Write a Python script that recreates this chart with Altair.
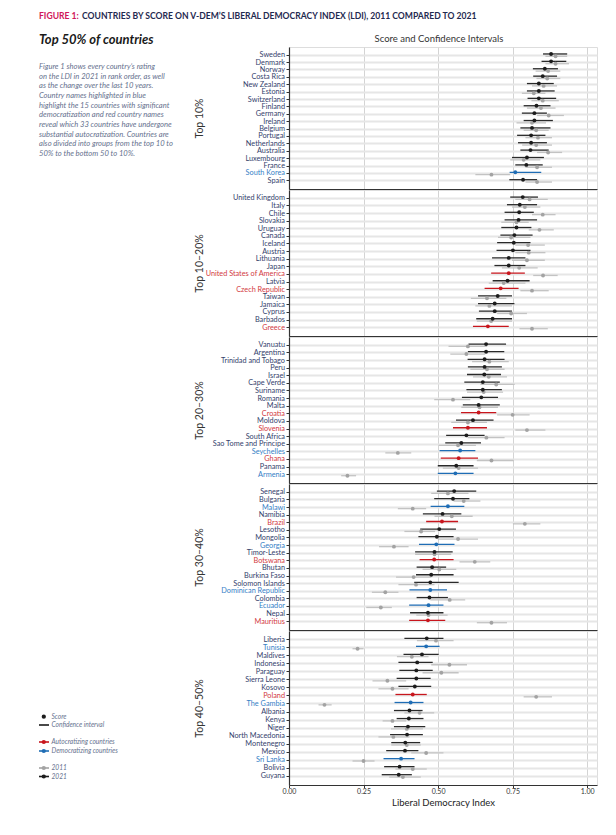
import json
import altair as alt
import pandas as pd

FONT = "Lato"

groups = ["Top 10%", "Top 10–20%", "Top 20–30%", "Top 30–40%", "Top 40–50%"]

countries1 = ["Sweden", "Denmark", "Norway", "Costa Rica", "New Zealand", "Estonia", "Switzerland",
              "Finland", "Germany", "Ireland", "Belgium", "Portugal", "Netherlands", "Australia",
              "Luxembourg", "France", "South Korea", "Spain"]
s21_1 = [0.879, 0.879, 0.858, 0.851, 0.838, 0.838, 0.838, 0.830, 0.823, 0.823, 0.815, 0.812, 0.812, 0.810, 0.798, 0.796, 0.759, 0.785]
lo21_1 = [0.852, 0.847, 0.818, 0.819, 0.798, 0.798, 0.800, 0.787, 0.781, 0.787, 0.776, 0.765, 0.768, 0.776, 0.748, 0.759, 0.740, 0.739]
hi21_1 = [0.933, 0.930, 0.902, 0.899, 0.888, 0.891, 0.896, 0.877, 0.865, 0.885, 0.877, 0.860, 0.865, 0.871, 0.855, 0.851, 0.846, 0.832]
s11_1 = [0.894, 0.894, 0.869, 0.866, 0.854, 0.821, 0.851, 0.845, 0.871, 0.815, 0.829, 0.835, 0.829, 0.869, 0.787, 0.832, 0.679, 0.832]
lo11_1 = [0.860, 0.860, 0.827, 0.830, 0.815, 0.781, 0.813, 0.798, 0.832, 0.763, 0.787, 0.793, 0.782, 0.832, 0.742, 0.793, 0.625, 0.793]
hi11_1 = [0.933, 0.939, 0.910, 0.910, 0.899, 0.860, 0.905, 0.894, 0.922, 0.862, 0.871, 0.882, 0.882, 0.916, 0.843, 0.882, 0.742, 0.882]

countries2 = ["United Kingdom", "Italy", "Chile", "Slovakia", "Uruguay", "Canada", "Iceland", "Austria",
              "Lithuania", "Japan", "United States of America", "Latvia", "Czech Republic", "Taiwan",
              "Jamaica", "Cyprus", "Barbados", "Greece"]
s21_2 = [0.784, 0.774, 0.772, 0.770, 0.763, 0.756, 0.754, 0.751, 0.737, 0.737, 0.737, 0.733, 0.710, 0.700, 0.690, 0.690, 0.683, 0.667]
lo21_2 = [0.742, 0.731, 0.723, 0.723, 0.712, 0.709, 0.698, 0.696, 0.681, 0.689, 0.678, 0.683, 0.656, 0.634, 0.634, 0.637, 0.628, 0.617]
hi21_2 = [0.835, 0.832, 0.821, 0.832, 0.813, 0.817, 0.810, 0.810, 0.793, 0.793, 0.791, 0.807, 0.770, 0.748, 0.756, 0.748, 0.748, 0.737]
s11_2 = [0.807, 0.791, 0.851, 0.763, 0.840, 0.745, 0.802, 0.804, 0.798, 0.772, 0.852, 0.720, 0.815, 0.664, 0.672, 0.745, 0.678, 0.815]
lo11_2 = [0.759, 0.748, 0.815, 0.712, 0.804, 0.701, 0.759, 0.759, 0.748, 0.714, 0.819, 0.670, 0.776, 0.610, 0.625, 0.698, 0.630, 0.773]
hi11_2 = [0.868, 0.843, 0.894, 0.804, 0.888, 0.810, 0.858, 0.860, 0.858, 0.834, 0.901, 0.793, 0.871, 0.729, 0.748, 0.798, 0.748, 0.868]

countries3 = ["Vanuatu", "Argentina", "Trinidad and Tobago", "Peru", "Israel", "Cape Verde", "Suriname",
              "Romania", "Malta", "Croatia", "Moldova", "Slovenia", "South Africa", "Sao Tome and Principe",
              "Seychelles", "Ghana", "Panama", "Armenia"]
s21_3 = [0.661, 0.661, 0.656, 0.656, 0.655, 0.650, 0.650, 0.645, 0.636, 0.636, 0.617, 0.600, 0.595, 0.578, 0.574, 0.569, 0.561, 0.558]
lo21_3 = [0.602, 0.600, 0.599, 0.600, 0.597, 0.588, 0.595, 0.580, 0.583, 0.577, 0.560, 0.550, 0.527, 0.524, 0.505, 0.509, 0.499, 0.499]
hi21_3 = [0.728, 0.722, 0.723, 0.714, 0.711, 0.707, 0.714, 0.701, 0.707, 0.695, 0.686, 0.664, 0.656, 0.644, 0.625, 0.634, 0.619, 0.619]
s11_3 = [0.600, 0.595, 0.672, 0.664, 0.670, 0.695, 0.653, 0.550, 0.639, 0.750, 0.600, 0.798, 0.662, 0.567, 0.365, 0.679, 0.569, 0.196]
lo11_3 = [0.535, 0.541, 0.614, 0.608, 0.617, 0.642, 0.597, 0.487, 0.578, 0.698, 0.544, 0.759, 0.599, 0.502, 0.323, 0.630, 0.516, 0.175]
hi11_3 = [0.664, 0.658, 0.737, 0.723, 0.731, 0.757, 0.718, 0.608, 0.701, 0.807, 0.664, 0.860, 0.723, 0.627, 0.410, 0.754, 0.634, 0.225]

countries4 = ["Senegal", "Bulgaria", "Malawi", "Namibia", "Brazil", "Lesotho", "Mongolia", "Georgia",
              "Timor-Leste", "Botswana", "Bhutan", "Burkina Faso", "Solomon Islands", "Dominican Republic",
              "Colombia", "Ecuador", "Nepal", "Mauritius"]
s21_4 = [0.554, 0.550, 0.533, 0.515, 0.513, 0.504, 0.496, 0.494, 0.488, 0.487, 0.480, 0.477, 0.474, 0.474, 0.471, 0.468, 0.466, 0.466]
lo21_4 = [0.496, 0.487, 0.475, 0.449, 0.460, 0.440, 0.434, 0.436, 0.423, 0.438, 0.428, 0.426, 0.420, 0.404, 0.428, 0.403, 0.406, 0.403]
hi21_4 = [0.628, 0.605, 0.588, 0.578, 0.567, 0.560, 0.552, 0.555, 0.549, 0.552, 0.527, 0.552, 0.569, 0.530, 0.533, 0.518, 0.518, 0.524]
s11_4 = [0.533, 0.586, 0.415, 0.546, 0.791, 0.443, 0.567, 0.352, 0.488, 0.623, 0.504, 0.418, 0.426, 0.323, 0.539, 0.308, 0.468, 0.679]
lo11_4 = [0.477, 0.552, 0.365, 0.488, 0.751, 0.387, 0.499, 0.302, 0.423, 0.572, 0.448, 0.359, 0.367, 0.278, 0.474, 0.259, 0.427, 0.630]
hi11_4 = [0.602, 0.642, 0.460, 0.616, 0.843, 0.490, 0.634, 0.401, 0.544, 0.675, 0.561, 0.477, 0.488, 0.367, 0.591, 0.345, 0.532, 0.731]

countries5 = ["Liberia", "Tunisia", "Maldives", "Indonesia", "Paraguay", "Sierra Leone", "Kosovo", "Poland",
              "The Gambia", "Albania", "Kenya", "Niger", "North Macedonia", "Montenegro", "Mexico",
              "Sri Lanka", "Bolivia", "Guyana"]
s21_5 = [0.462, 0.460, 0.446, 0.430, 0.427, 0.427, 0.422, 0.415, 0.408, 0.404, 0.402, 0.399, 0.396, 0.390, 0.389, 0.376, 0.371, 0.368]
lo21_5 = [0.387, 0.426, 0.384, 0.367, 0.370, 0.361, 0.367, 0.357, 0.354, 0.352, 0.361, 0.352, 0.339, 0.343, 0.326, 0.317, 0.319, 0.311]
hi21_5 = [0.518, 0.505, 0.502, 0.482, 0.482, 0.475, 0.477, 0.462, 0.451, 0.448, 0.451, 0.457, 0.449, 0.440, 0.434, 0.421, 0.421, 0.412]
s11_5 = [0.493, 0.230, 0.412, 0.538, 0.511, 0.330, 0.347, 0.829, 0.119, 0.438, 0.347, 0.395, 0.350, 0.395, 0.460, 0.250, 0.415, 0.382]
lo11_5 = [0.429, 0.213, 0.362, 0.477, 0.448, 0.280, 0.300, 0.787, 0.099, 0.387, 0.314, 0.342, 0.300, 0.343, 0.410, 0.213, 0.357, 0.336]
hi11_5 = [0.552, 0.250, 0.468, 0.597, 0.569, 0.393, 0.401, 0.882, 0.143, 0.487, 0.393, 0.449, 0.404, 0.442, 0.518, 0.287, 0.462, 0.442]

autocratizing = ["United States of America", "Czech Republic", "Greece", "Croatia", "Slovenia", "Ghana",
                 "Brazil", "Botswana", "Mauritius", "Poland"]
democratizing = ["South Korea", "Seychelles", "Armenia", "Malawi", "Georgia", "Dominican Republic",
                 "Ecuador", "Tunisia", "The Gambia", "Sri Lanka"]

x_ticks = [0.0, 0.25, 0.5, 0.75, 1.0]

title_lead = "FIGURE 1:"
title_rest = "COUNTRIES BY SCORE ON V-DEM’S LIBERAL DEMOCRACY INDEX (LDI), 2011 COMPARED TO 2021"
subtitle = "Top 50% of countries"
panel_title = "Score and Confidence Intervals"
x_title = "Liberal Democracy Index"
paragraph = ("Figure 1 shows every country’s rating\n"
             "on the LDI in 2021 in rank order, as well\n"
             "as the change over the last 10 years.\n"
             "Country names highlighted in blue\n"
             "highlight the 15 countries with significant\n"
             "democratization and red country names\n"
             "reveal which 33 countries have undergone\n"
             "substantial autocratization. Countries are\n"
             "also divided into groups from the top 10 to\n"
             "50% to the bottom 50 to 10%.")

group_data = [
    (countries1, s21_1, lo21_1, hi21_1, s11_1, lo11_1, hi11_1),
    (countries2, s21_2, lo21_2, hi21_2, s11_2, lo11_2, hi11_2),
    (countries3, s21_3, lo21_3, hi21_3, s11_3, lo11_3, hi11_3),
    (countries4, s21_4, lo21_4, hi21_4, s11_4, lo11_4, hi11_4),
    (countries5, s21_5, lo21_5, hi21_5, s11_5, lo11_5, hi11_5),
]

RED = "#c8161d"
BLUE = "#1f6db5"
LBL_NAVY = "#34426c"
LBL_RED = "#d23a3f"
LBL_BLUE = "#3580c6"
NOTE = "#66718e"

rows = []
for g, (names, a, b, c, d, e, f) in zip(groups, group_data):
    for i, name in enumerate(names):
        rows.append(dict(group=g, country=name, year="2011", score=d[i], lo=e[i], hi=f[i], key="2011"))
    for i, name in enumerate(names):
        st = "auto" if name in autocratizing else ("demo" if name in democratizing else "2021")
        rows.append(dict(group=g, country=name, year="2021", score=a[i], lo=b[i], hi=c[i], key=st))
df = pd.DataFrame(rows)

keys = ["2011", "2021", "auto", "demo"]
point_colors = ["#a3a3a3", "#1c1c1c", RED, BLUE]
line_colors = ["#c3c3c3", "#2a2a2a", RED, BLUE]

heights = [142, 146, 146, 146, 154]
WIDTH = 308


def one(text):
    return pd.DataFrame({"t": [text]})


def text_layer(text, x, y, **kw):
    return alt.Chart(one(text)).mark_text(**kw).encode(
        text="t:N", x=alt.value(x), y=alt.value(y))


def panel(i):
    g = groups[i]
    names = group_data[i][0]
    H = heights[i]
    last = i == len(groups) - 1
    d = df[df.group == g]
    autos = [n for n in names if n in autocratizing]
    demos = [n for n in names if n in democratizing]
    label_color = {
        "condition": [
            {"test": "indexof(%s, datum.value) >= 0" % json.dumps(autos), "value": LBL_RED},
            {"test": "indexof(%s, datum.value) >= 0" % json.dumps(demos), "value": LBL_BLUE},
        ],
        "value": LBL_NAVY,
    }
    yaxis = alt.Axis(
        title=g, titleX=-90, titleY=H / 2, titleAngle=270, titleAlign="center",
        titleBaseline="middle", titleFontSize=10.5, titleFontWeight="normal", titleColor="#333333",
        titleFont=FONT, labelFont=FONT, labelFontSize=7.3, labelColor=label_color, labelPadding=1.5,
        tickSize=3, tickColor="#333333", domainColor="#333333", domainWidth=1.2,
        grid=True, gridColor="#e6e6e6", gridWidth=2, bandPosition=0.5)
    xaxis = alt.Axis(
        values=x_ticks, format=".2f", labels=last, title=x_title if last else None,
        titleFont=FONT, titleFontSize=9.5, titleFontWeight="normal", titleColor="#222222",
        titlePadding=2.5, labelFont=FONT, labelFontSize=7, labelColor="#333333", labelPadding=0,
        labelFlush=False, tickSize=2.5, tickColor="#333333", domainColor="#333333", domainWidth=1.2,
        grid=True, gridColor="#d4d4d4", gridWidth=1)
    yenc = alt.Y("country:N", sort=names,
                 scale=alt.Scale(type="band", paddingInner=0, paddingOuter=0.6), axis=yaxis)
    yoff = alt.YOffset("year:N", sort=["2021", "2011"],
                       scale=alt.Scale(paddingInner=0, paddingOuter=0.58))
    xscale = alt.Scale(domain=[0, 1.033], nice=False, zero=False)
    base = alt.Chart(d)
    rules = base.mark_rule(strokeWidth=1.3).encode(
        x=alt.X("lo:Q", scale=xscale, axis=xaxis),
        x2="hi:Q",
        y=yenc,
        yOffset=yoff,
        stroke=alt.Stroke("key:N", scale=alt.Scale(domain=keys, range=line_colors), legend=None),
    )
    pts = base.mark_circle(size=15, opacity=1).encode(
        x=alt.X("score:Q", scale=xscale, axis=xaxis),
        y=yenc,
        yOffset=yoff,
        fill=alt.Fill("key:N", scale=alt.Scale(domain=keys, range=point_colors), legend=None),
    )
    layers = [rules, pts]
    if i == 0:
        layers += [
            text_layer(title_lead, -250, -31, align="left", baseline="middle", font=FONT,
                       fontSize=8.6, fontWeight="bold", color="#d0175a"),
            text_layer(title_rest, -207, -31, align="left", baseline="middle", font=FONT,
                       fontSize=8.6, fontWeight="bold", color="#1f2a50"),
            text_layer(subtitle, -250, -7, align="left", baseline="middle", font=FONT,
                       fontSize=13, fontWeight="bold", fontStyle="italic", color="#1a1a1a"),
            text_layer(panel_title, 150, -8, align="center", baseline="middle", font=FONT,
                       fontSize=9.5, color="#333333"),
            text_layer(paragraph, -250, 16, align="left", baseline="top", font=FONT,
                       fontSize=7.6, fontStyle="italic", color=NOTE, lineBreak="\n", lineHeight=9.65),
        ]
    if last:
        legend_items = [
            ("Score", 85.7, "dot", "#1c1c1c", "#1c1c1c"),
            ("Confidence interval", 94, "line", "#1c1c1c", "#1c1c1c"),
            ("Autocratizing countries", 111, "both", RED, RED),
            ("Democratizing countries", 120, "both", BLUE, BLUE),
            ("2011", 137, "both", "#a3a3a3", "#a3a3a3"),
            ("2021", 145.5, "both", "#1c1c1c", "#1c1c1c"),
        ]
        for lab, ly, kind, pc, lc in legend_items:
            src = alt.Chart(one(lab))
            if kind in ("line", "both"):
                layers.append(src.mark_rule(strokeWidth=1.6, color=lc).encode(
                    x=alt.value(-250), x2=alt.value(-240), y=alt.value(ly)))
            if kind in ("dot", "both"):
                layers.append(src.mark_circle(size=18, color=pc, opacity=1).encode(
                    x=alt.value(-245.2), y=alt.value(ly)))
            layers.append(text_layer(lab, -237.5, ly, align="left", baseline="middle", font=FONT,
                                     fontSize=6.6, fontStyle="italic", color=NOTE))
    return alt.layer(*layers).properties(width=WIDTH, height=H)


chart = alt.vconcat(*[panel(i) for i in range(len(groups))], spacing=1, bounds="flush").properties(
    padding={"left": 29, "top": 3, "right": 5, "bottom": 5}
).configure_view(stroke=None).configure(font=FONT)

chart.save("out.html", embed_options={"renderer": "svg", "actions": False})
